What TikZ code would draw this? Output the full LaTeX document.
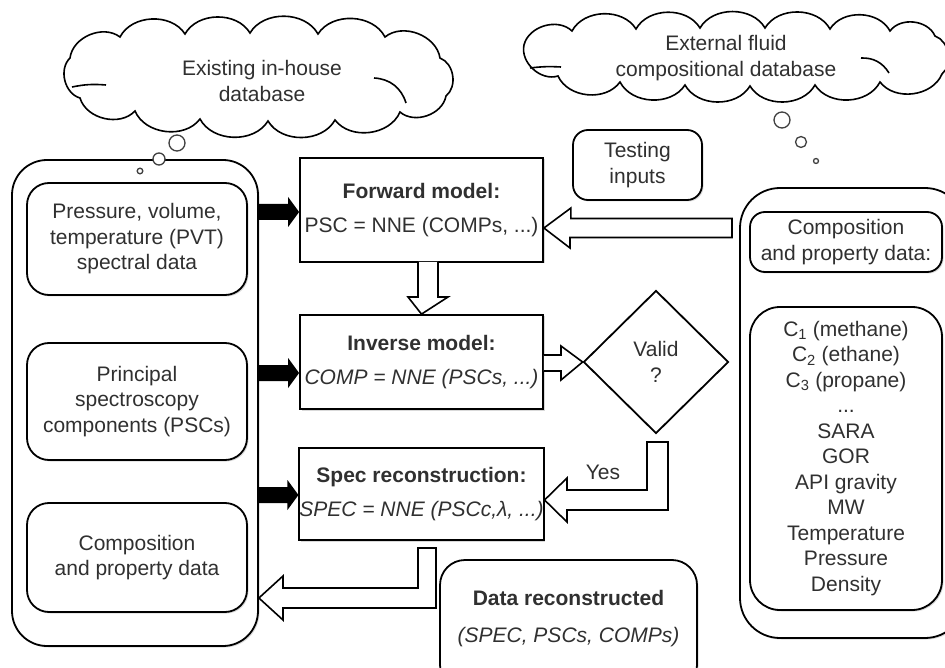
\documentclass[tikz,border=0pt]{standalone}
\usepackage{fontspec}
\setmainfont{Liberation Sans}
\usetikzlibrary{shapes.geometric,shadows,calc}
\definecolor{txt}{HTML}{303030}
\newcommand\blackarrow[1]{\fill[black] (#1) -- ++(-11,-15) -- ++(0,7) -- ++(-30,0) -- ++(0,16) -- ++(30,0) -- ++(0,7) -- cycle;}
\begin{document}
\begin{tikzpicture}[x=1pt,y=-1pt,
  lab/.style={font=\fontsize{21}{25.5}\selectfont, text=txt, align=center},
  shad/.style={drop shadow={opacity=0.3,shadow xshift=1.5pt,shadow yshift=-1.5pt}},
  rbox/.style={draw=black, line width=1.8pt, fill=white, rounded corners=#1, shad, inner sep=0pt, lab},
  sbox/.style={draw=black, line width=1.8pt, fill=white, shad, inner sep=0pt, lab},
  openarrow/.style={draw=black, line width=1.6pt, fill=white, line join=miter},
  cloudline/.style={draw=black, line width=1.6pt, fill=white},
  curl/.style={draw=black, line width=1.6pt},
  puff/.style={bend left=60},
  bubble/.style={draw=black!75, line width=1.3pt, fill=white}
]
\useasboundingbox (0,0) rectangle (945,668);

% clouds
\draw[cloudline] (440,58) to[puff] (446,96) to[puff] (400,112) to[puff] (335,120)
  to[puff] (268,121) to[puff] (200,119) to[puff] (135,111) to[puff] (80,98)
  to[puff] (70,58) to[puff] (120,37) to[puff] (185,34) to[puff] (250,33)
  to[puff] (318,34) to[puff] (385,37) to[puff] cycle;
\draw[curl] (72,87) to[bend left=8] (106,85);
\draw[curl] (374,78) to[bend left=35] (406,103);
\draw[cloudline] (935,36) to[puff] (942,74) to[puff] (880,82) to[puff] (815,85)
  to[puff] (750,86) to[puff] (685,85) to[puff] (620,82) to[puff] (558,76)
  to[puff] (524,45) to[puff] (572,31) to[puff] (636,29) to[puff] (700,28)
  to[puff] (765,28) to[puff] (830,29) to[puff] (890,31) to[puff] cycle;
\draw[curl] (530,68) to[bend left=5] (561,67);
\draw[curl] (861,58) to[bend left=30] (889,73);
\node[lab] (cl1) at (262,81) {Existing in-house\\database};
\node[lab] (cl2) at (726,58) {External fluid\\compositional database};
\draw[bubble] (177,143) circle[radius=8];
\draw[bubble] (782,120) circle[radius=8];
\draw[bubble] (801,142) circle[radius=5.5];
\draw[bubble] (816,161) circle[radius=2.5];

% left column
\node[rbox=35pt, minimum width=246pt, minimum height=486pt] (lout) at (135,403) {};
\draw[bubble] (159,159) circle[radius=6];
\draw[bubble] (140,171) circle[radius=2.8];
\node[rbox=22pt, minimum width=220pt, minimum height=112pt] (l1) at (137,239) {Pressure, volume,\\temperature (PVT)\\spectral data};
\node[rbox=22pt, minimum width=220pt, minimum height=117pt] (l2) at (137,401.5) {Principal\\spectroscopy\\components (PSCs)};
\node[rbox=22pt, minimum width=220pt, minimum height=109pt] (l3) at (137,557.5) {Composition\\and property data};

% middle
\node[sbox, minimum width=243pt, minimum height=104pt] (fwd) at (421.5,210) {\textbf{Forward model:}\\[9pt]PSC = NNE (COMPs, ...)};
\node[sbox, minimum width=243pt, minimum height=94pt] (inv) at (421.5,362) {\textbf{Inverse model:}\\[9pt]\textit{COMP = NNE (PSCs, ...)}};
\node[sbox, minimum width=243pt, minimum height=92pt] (spec) at (421.5,494) {\textbf{Spec reconstruction:}\\[9pt]\textit{SPEC = NNE (PSCc,λ, ...)}};
\node[diamond, draw=black, line width=1.8pt, fill=white, minimum width=145pt, minimum height=143pt, inner sep=0pt, lab] (valid) at (656,362) {Valid\\?};
\node[rbox=15pt, minimum width=129pt, minimum height=70pt] (test) at (637.5,165) {Testing\\inputs};
\node[rbox=25pt, minimum width=257pt, minimum height=130pt] (data) at (568.5,625) {};
\node[lab] (datatxt) at (568.5,618.5) {\textbf{Data reconstructed}\\[11pt]\textit{(SPEC, PSCs, COMPs)}};

% right column
\node[rbox=40pt, minimum width=225pt, minimum height=450pt] (rout) at (852.5,413) {};
\node[rbox=15pt, minimum width=192pt, minimum height=60pt] (r1) at (846,242) {Composition\\and property data:};
\node[rbox=30pt, minimum width=192pt, minimum height=303pt] (r2) at (846,458.5) {C\textsubscript{1} (methane)\\C\textsubscript{2} (ethane)\\C\textsubscript{3} (propane)\\...\\SARA\\GOR\\API gravity\\MW\\Temperature\\Pressure\\Density};

% black arrows
\coordinate (t1) at (fwd.west |- 0,212);
\coordinate (t2) at (inv.west |- 0,373);
\coordinate (t3) at (spec.west |- 0,495);
\blackarrow{t1}
\blackarrow{t2}
\blackarrow{t3}

% open arrows
\draw[openarrow] (fwd.east |- 0,228) -- ++(27,-20) -- ++(0,10.5) -- (732,218.5) -- (732,237.5) -- (570,237.5) -- (570,248) -- cycle;
\draw[openarrow] (418,262) -- (418,297) -- (408,297) -- (inv.north) -- (448,297) -- (438,297) -- (438,262);
\draw[openarrow] (inv.east |- 0,355) -- (561,355) -- (561,346) -- (valid.west) -- (561,380) -- (561,371) -- (inv.east |- 0,371);
\draw[openarrow] (647,442) -- (668,442) -- (668,510) -- (567,510) -- (567,522) -- (spec.east |- 0,500) -- (567,478) -- (567,490) -- (647,490) -- cycle;
\node[lab] (yes) at (603,472) {Yes};
\draw[openarrow] (418,548) -- (436,548) -- (436,608) -- (283,608) -- (283,620) -- (lout.east |- 0,598) -- (283,576) -- (283,588) -- (418,588) -- cycle;
\end{tikzpicture}
\end{document}
